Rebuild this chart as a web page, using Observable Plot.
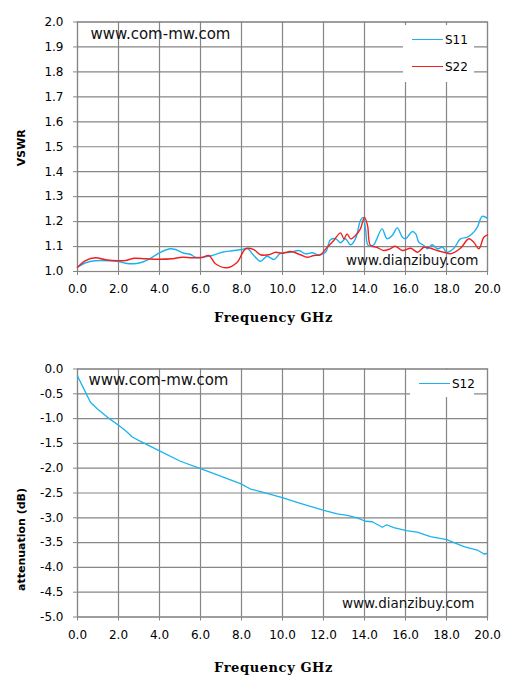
<!DOCTYPE html>
<html><head><meta charset="utf-8">
<script src="https://cdn.jsdelivr.net/npm/d3@7"></script>
<script src="https://cdn.jsdelivr.net/npm/@observablehq/plot@0.6"></script>
<style>
body{margin:0;background:#fff;}
#wrap{position:relative;width:515px;height:689px;overflow:hidden;}
#wrap svg{display:block;}
.legend{position:absolute;background:#fff;font-family:"DejaVu Sans";font-size:12px;color:#000;}
.legend .ln{position:absolute;height:0;border-top:1.5px solid;}
.legend .lb{position:absolute;line-height:14px;white-space:nowrap;}
</style></head><body><div id="wrap"></div>
<script>
// ---- data ----
const xTicks = [0, 2, 4, 6, 8, 10, 12, 14, 16, 18, 20];
const yTicksTop = [1.0, 1.1, 1.2, 1.3, 1.4, 1.5, 1.6, 1.7, 1.8, 1.9, 2.0];
const yTicksBottom = [0, -0.5, -1, -1.5, -2, -2.5, -3, -3.5, -4, -4.5, -5];
const seriesTop = ["S11", "S22"];
const seriesBottom = ["S12"];
const s11 = [[0,1.017],[0.39,1.035],[0.88,1.043],[1.53,1.043],[2.0,1.04],[2.34,1.033],[2.75,1.031],[3.15,1.037],[3.64,1.057],[4.05,1.077],[4.54,1.091],[4.78,1.088],[5.19,1.073],[5.5,1.069],[5.76,1.057],[6.08,1.057],[6.57,1.064],[7.06,1.077],[7.55,1.083],[8.03,1.088],[8.28,1.093],[8.6,1.064],[8.93,1.041],[9.25,1.061],[9.58,1.048],[9.9,1.073],[10.39,1.077],[10.8,1.084],[11.12,1.071],[11.45,1.075],[11.77,1.067],[12.1,1.077],[12.34,1.127],[12.6,1.131],[12.83,1.115],[13.07,1.131],[13.32,1.107],[13.56,1.131],[13.8,1.204],[13.93,1.217],[14.05,1.171],[14.18,1.104],[14.45,1.107],[14.6,1.131],[14.86,1.171],[15.1,1.131],[15.35,1.144],[15.6,1.175],[15.85,1.137],[16.0,1.131],[16.33,1.16],[16.5,1.151],[16.65,1.117],[16.9,1.104],[17.07,1.091],[17.3,1.107],[17.55,1.091],[17.8,1.097],[18.03,1.077],[18.36,1.093],[18.68,1.131],[19.0,1.137],[19.25,1.151],[19.5,1.177],[19.74,1.221],[20.0,1.213]];
const s22 = [[0,1.017],[0.39,1.044],[0.88,1.055],[1.37,1.047],[2.0,1.043],[2.34,1.044],[2.75,1.053],[3.31,1.051],[3.96,1.049],[4.62,1.051],[5.1,1.057],[5.6,1.055],[6.08,1.056],[6.41,1.064],[6.73,1.031],[7.3,1.015],[7.79,1.037],[8.2,1.091],[8.6,1.088],[8.93,1.067],[9.33,1.067],[9.66,1.077],[10.0,1.073],[10.39,1.08],[10.88,1.067],[11.2,1.057],[11.53,1.064],[11.85,1.067],[12.18,1.097],[12.5,1.124],[12.83,1.155],[13.0,1.131],[13.15,1.151],[13.32,1.131],[13.56,1.144],[13.8,1.171],[14.0,1.217],[14.15,1.184],[14.29,1.104],[14.6,1.097],[14.93,1.084],[15.25,1.091],[15.5,1.101],[15.85,1.084],[16.26,1.093],[16.59,1.077],[16.9,1.097],[17.23,1.093],[17.55,1.084],[17.88,1.077],[18.2,1.071],[18.68,1.093],[19.09,1.131],[19.33,1.117],[19.58,1.091],[19.82,1.137],[20.0,1.147]];
const s12 = [[0,-0.14],[0.31,-0.40],[0.63,-0.67],[0.96,-0.80],[1.45,-0.97],[2.02,-1.14],[2.39,-1.26],[2.67,-1.37],[3.07,-1.46],[4.05,-1.66],[5.02,-1.86],[6.0,-2.01],[6.98,-2.16],[7.95,-2.31],[8.44,-2.42],[8.93,-2.47],[9.42,-2.53],[10.03,-2.60],[10.71,-2.69],[11.36,-2.77],[12.02,-2.85],[12.67,-2.92],[13.16,-2.95],[13.64,-3.00],[14.05,-3.07],[14.38,-3.08],[14.87,-3.19],[15.08,-3.14],[15.43,-3.20],[16.04,-3.26],[16.57,-3.29],[17.22,-3.38],[18.01,-3.44],[18.85,-3.58],[19.5,-3.65],[19.83,-3.73],[20.0,-3.72]];
const watermark1 = "www.com-mw.com";
const watermark2 = "www.dianzibuy.com";
const xTitle = "Frequency GHz";
const yTitleTop = "VSWR";
const yTitleBottom = "attenuation (dB)";
const colors = {S11: "#1BB3EE", S22: "#F02020", S12: "#1BB3EE"};

// ---- helpers ----
const GRID = "#868686";
const fmt = d => d.toFixed(1);
function marksFor(yTicks, lines, yTitle, yTitleDy, xTitleDy, wm1dx, wm1dy, wm2dx, wm2dy) {
  return [
    Plot.gridX(xTicks, {stroke: GRID, strokeOpacity: 1, strokeWidth: 1.2}),
    Plot.gridY(yTicks, {stroke: GRID, strokeOpacity: 1, strokeWidth: 1.2}),
    Plot.frame({stroke: GRID, strokeWidth: 1.2}),
    ...lines,
    Plot.axisX({ticks: xTicks, tickFormat: fmt, tickSize: 4, tickPadding: 9, stroke: GRID, label: null, fontSize: 12}),
    Plot.axisY({ticks: yTicks, tickFormat: fmt, tickSize: 4, tickPadding: 10, stroke: GRID, label: null, fontSize: 12}),
    Plot.text([watermark1], {text: d => d, frameAnchor: "top-left", textAnchor: "start", lineAnchor: "middle", dx: wm1dx, dy: wm1dy, fontSize: 15, fill: "#111"}),
    Plot.text([watermark2], {text: d => d, frameAnchor: "bottom-right", textAnchor: "end", lineAnchor: "middle", dx: wm2dx, dy: wm2dy, fontSize: 13.5, fill: "#111"}),
    Plot.text([yTitle], {text: d => d, frameAnchor: "left", textAnchor: "middle", lineAnchor: "middle", rotate: -90, dx: -56, dy: yTitleDy, fontSize: 11, fontWeight: "bold"}),
    Plot.text([xTitle], {text: d => d, frameAnchor: "bottom", textAnchor: "middle", lineAnchor: "middle", dx: -9, dy: xTitleDy, fontSize: 13, fontWeight: "bold", fontFamily: "DejaVu Serif"})
  ];
}

const chartTop = Plot.plot({
  width: 515, height: 345,
  marginLeft: 77, marginRight: 28, marginTop: 21.5, marginBottom: 74,
  style: {fontFamily: "DejaVu Sans", fontSize: "12px", background: "#fff", color: "#000"},
  x: {domain: [0, 20]},
  y: {domain: [1, 2]},
  marks: marksFor(yTicksTop, [
    Plot.line(s11, {x: d => d[0], y: d => d[1], stroke: colors.S11, strokeWidth: 1.4, curve: "catmull-rom"}),
    Plot.line(s22, {x: d => d[0], y: d => d[1], stroke: colors.S22, strokeWidth: 1.4, curve: "catmull-rom"})
  ], yTitleTop, 1, 46, 13, 12.5, -9, -11)
});

const chartBottom = Plot.plot({
  width: 515, height: 344,
  marginLeft: 77, marginRight: 28, marginTop: 23.5, marginBottom: 72.5,
  style: {fontFamily: "DejaVu Sans", fontSize: "12px", background: "#fff", color: "#000"},
  x: {domain: [0, 20]},
  y: {domain: [-5, 0]},
  marks: marksFor(yTicksBottom, [
    Plot.line(s12, {x: d => d[0], y: d => d[1], stroke: colors.S12, strokeWidth: 1.3})
  ], yTitleBottom, 46.5, 50.5, 11, 11.5, -13, -13.5)
});

const wrap = document.getElementById("wrap");
wrap.appendChild(chartTop);
wrap.appendChild(chartBottom);

for (const svg of [chartTop, chartBottom]) {
  d3.select(svg).selectAll("text").filter(function() { return this.textContent === xTitle; }).style("letter-spacing", "0.6px");
}

// ---- legends (HTML overlays) ----
function legend(items, left, topPx, w, h, rowYs) {
  const box = document.createElement("div");
  box.className = "legend";
  Object.assign(box.style, {left: left + "px", top: topPx + "px", width: w + "px", height: h + "px"});
  items.forEach((name, i) => {
    const ln = document.createElement("div");
    ln.className = "ln";
    Object.assign(ln.style, {left: "9px", width: "31px", top: (rowYs[i] - 0.75) + "px", borderTopColor: colors[name]});
    const lb = document.createElement("div");
    lb.className = "lb";
    lb.textContent = name;
    Object.assign(lb.style, {left: "42px", top: (rowYs[i] - 7) + "px"});
    box.appendChild(ln); box.appendChild(lb);
  });
  wrap.appendChild(box);
}
legend(seriesTop, 403, 25, 71, 57, [15, 42]);
legend(seriesBottom, 410, 370, 64, 27, [14]);
</script></body></html>
